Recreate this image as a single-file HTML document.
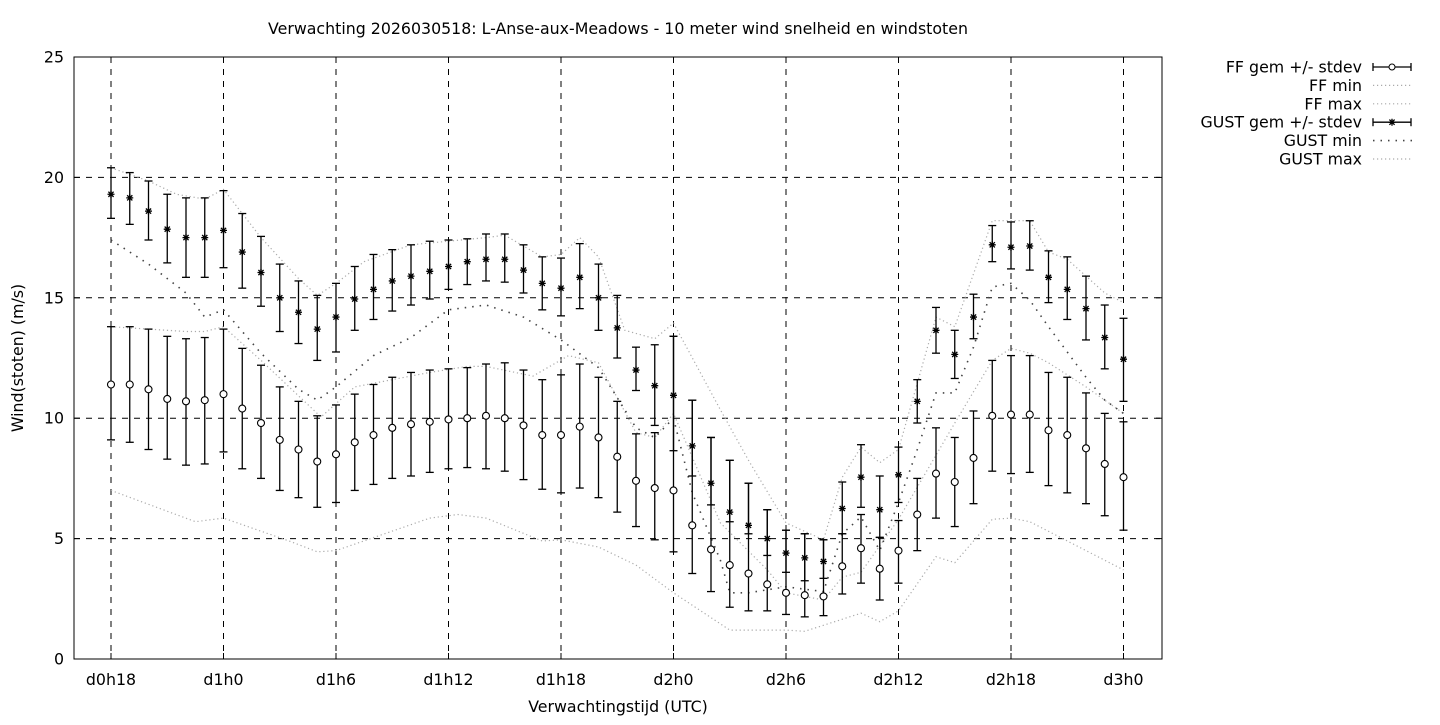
<!DOCTYPE html>
<html><head><meta charset="utf-8"><style>
html,body{margin:0;padding:0;background:#fff}
svg text{font-family:"DejaVu Sans","Liberation Sans",sans-serif;font-size:15.8px;fill:#000}
</style></head><body>
<svg id="c" width="1440" height="720" xmlns="http://www.w3.org/2000/svg"></svg>
<script>
const X0=74,X1=1162,Y0=57,Y1=659;
const px=i=>111+18.75*i, py=v=>659-v*24.08;
let s='';
for(let v=5;v<25;v+=5) s+=`<line x1="${X0}" x2="${X1}" y1="${py(v)}" y2="${py(v)}" stroke="#000" stroke-dasharray="6,6"/>`;
const xt=["d0h18","d1h0","d1h6","d1h12","d1h18","d2h0","d2h6","d2h12","d2h18","d3h0"];
xt.forEach((t,k)=>{const x=px(k*6);s+=`<line x1="${x}" x2="${x}" y1="${Y0}" y2="${Y1}" stroke="#000" stroke-dasharray="6,6"/>`;
s+=`<line x1="${x}" x2="${x}" y1="${Y1}" y2="${Y1-6}" stroke="#000"/><line x1="${x}" x2="${x}" y1="${Y0}" y2="${Y0+6}" stroke="#000"/>`;
s+=`<text x="${x}" y="685" text-anchor="middle">${t}</text>`;});
for(let v=0;v<=25;v+=5){const y=py(v);s+=`<line x1="${X0}" x2="${X0+6}" y1="${y}" y2="${y}" stroke="#000"/><line x1="${X1}" x2="${X1-6}" y1="${y}" y2="${y}" stroke="#000"/>`;
s+=`<text x="64" y="${y+5.5}" text-anchor="end">${v}</text>`;}
s+=`<rect x="${X0}" y="${Y0}" width="${X1-X0}" height="${Y1-Y0}" fill="none" stroke="#000"/>`;
const ffmin=[[0,7],[4.5,5.7],[6,5.85],[9.5,4.9],[11,4.45],[12,4.5],[17,5.85],[18.5,6],[20,5.85],[23,4.9],[24,4.95],[26,4.65],[28,3.9],[30,2.75],[33,1.2],[36,1.2],[37,1.15],[40,1.9],[41,1.55],[42,2.0],[44,4.25],[45,4.0],[47,5.8],[48,5.85],[49,5.7],[54,3.7]];
const ffmax=[[0,13.8],[4,13.6],[5,13.6],[6,13.8],[8,12.4],[11.2,10.05],[13,11.3],[17,11.9],[19,12.15],[20,12.15],[22.5,11.75],[24.4,12.6],[26,12.3],[28,9.4],[29,9.2],[30,10.2],[32.5,5.65],[35,3.7],[36,2.75],[38,2.45],[39,3.4],[40,3.6],[42,5.8],[45,9.8],[47,12.4],[48,12.9],[49,12.7],[50,12.3],[52,11.3],[54,10.2]];
const gmin=[[0,17.4],[2,16.4],[4,15.2],[5,14.2],[6,14.5],[8,12.7],[10,11.2],[11,10.75],[12,11.3],[14,12.6],[16,13.35],[18,14.5],[20,14.7],[22,14.2],[24,13.25],[26,12.1],[28,9.6],[29,9.2],[30,10.0],[31,6.9],[32.5,4.1],[33,2.75],[34,2.75],[36,3.0],[38,2.8],[39,5.2],[40,5.9],[41,4.5],[42,6.5],[43,8.7],[44,11.05],[45,11.05],[46,12.95],[47,15.45],[48,15.6],[49,14.9],[50,13.8],[52,11.7],[53,10.75],[54,10.2]];
const gmax=[[0,20.4],[2,19.85],[3.5,19.3],[5,19.1],[6,19.5],[8,17.5],[10,15.8],[11,15.1],[12,15.6],[13.5,16.5],[16,17.2],[18,17.35],[20,17.5],[21,17.6],[23,16.7],[24,16.8],[25,17.5],[26,16.7],[27.4,13.65],[29,13.3],[30,13.95],[32.5,10.35],[34,8.25],[36,5.65],[38,4.95],[39,7.55],[40,8.8],[41,8.15],[42,8.7],[44,14.2],[45,13.8],[47,18.2],[49,18.2],[50,16.9],[51,16.6],[53,15.2],[54,14.8]];
const line=(a,st)=>`<polyline fill="none" ${st} points="${a.map(p=>px(p[0]).toFixed(1)+','+py(p[1]).toFixed(1)).join(' ')}"/>`;
const light='stroke="#aaa" stroke-width="1.2" stroke-dasharray="1.2,2.8"';
const dark='stroke="#444" stroke-width="1.6" stroke-dasharray="1.5,6"';
s+=line(ffmin,light)+line(ffmax,light)+line(gmax,light)+line(gmin,dark);
const ffm=[11.4,11.4,11.2,10.8,10.7,10.75,11.0,10.4,9.8,9.1,8.7,8.2,8.5,9.0,9.3,9.6,9.75,9.85,9.95,10.0,10.1,10.0,9.7,9.3,9.3,9.65,9.2,8.4,7.4,7.1,7.0,5.55,4.55,3.9,3.55,3.1,2.75,2.65,2.6,3.85,4.6,3.75,4.5,6.0,7.7,7.35,8.35,10.1,10.15,10.15,9.5,9.3,8.75,8.1,7.55];
const ffh=[13.8,13.8,13.7,13.4,13.3,13.35,13.7,12.9,12.2,11.3,10.7,10.1,10.55,11.0,11.4,11.7,11.9,12.0,12.05,12.1,12.25,12.3,12.0,11.6,11.8,12.25,11.7,10.7,9.35,9.4,13.4,10.75,9.2,8.25,7.3,6.2,5.35,5.2,4.95,5.2,6.0,5.05,5.75,7.5,9.6,9.2,10.3,12.4,12.6,12.6,11.9,11.7,11.05,10.2,9.85];
const ffl=[9.1,9.0,8.7,8.3,8.05,8.1,8.6,7.9,7.5,7.0,6.7,6.3,6.5,7.0,7.25,7.5,7.6,7.75,7.9,7.95,7.9,7.8,7.45,7.05,6.9,7.1,6.7,6.1,5.5,4.95,4.45,3.55,2.8,2.15,2.0,2.0,1.85,1.75,1.8,2.7,3.15,2.45,3.15,4.5,5.85,5.5,6.45,7.8,7.7,7.75,7.2,6.9,6.45,5.95,5.35];
const gm=[19.3,19.15,18.6,17.85,17.5,17.5,17.8,16.9,16.05,15.0,14.4,13.7,14.2,14.95,15.35,15.7,15.9,16.1,16.3,16.5,16.6,16.6,16.15,15.6,15.4,15.85,15.0,13.75,12.0,11.35,10.95,8.85,7.3,6.1,5.55,5.0,4.4,4.2,4.05,6.25,7.55,6.2,7.65,10.7,13.65,12.65,14.2,17.2,17.1,17.15,15.85,15.35,14.55,13.35,12.45];
const gh=[20.4,20.2,19.85,19.3,19.15,19.15,19.45,18.5,17.55,16.4,15.7,15.1,15.6,16.3,16.8,17.0,17.2,17.35,17.4,17.45,17.65,17.65,17.2,16.7,16.65,17.25,16.4,15.1,12.95,13.05,13.4,10.75,9.2,8.25,7.3,6.2,5.35,5.2,4.95,7.35,8.9,7.6,8.8,11.6,14.6,13.65,15.15,18.0,18.15,18.2,16.95,16.7,15.9,14.7,14.15];
const gl=[18.3,18.05,17.4,16.45,15.85,15.85,16.25,15.4,14.65,13.6,13.1,12.4,12.75,13.65,14.1,14.45,14.7,14.95,15.35,15.55,15.7,15.65,15.2,14.5,14.25,14.55,13.65,12.5,11.15,9.7,8.65,7.6,6.4,5.7,5.2,4.3,3.6,3.25,3.35,5.2,6.3,5.05,6.5,9.8,12.7,11.65,13.3,16.5,16.2,16.15,14.8,14.1,13.25,12.05,10.7];
function bar(i,lo,hi){const x=px(i);return `<line x1="${x}" x2="${x}" y1="${py(lo)}" y2="${py(hi)}" stroke="#000" stroke-width="1.3"/><line x1="${x-4}" x2="${x+4}" y1="${py(lo)}" y2="${py(lo)}" stroke="#000" stroke-width="1.3"/><line x1="${x-4}" x2="${x+4}" y1="${py(hi)}" y2="${py(hi)}" stroke="#000" stroke-width="1.3"/>`;}
function star(x,y){return `<path d="M${x-3.5} ${y}H${x+3.5}M${x} ${y-3.5}V${y+3.5}M${x-2.6} ${y-2.6}L${x+2.6} ${y+2.6}M${x-2.6} ${y+2.6}L${x+2.6} ${y-2.6}" stroke="#000" stroke-width="1.3"/>`;}
for(let i=0;i<55;i++){s+=bar(i,ffl[i],ffh[i])+bar(i,gl[i],gh[i]);
s+=`<circle cx="${px(i)}" cy="${py(ffm[i])}" r="3.5" fill="#fff" stroke="#000" stroke-width="1.1"/>`;
s+=star(px(i),py(gm[i]));}
const L=["FF gem +/- stdev","FF min","FF max","GUST gem +/- stdev","GUST min","GUST max"];
L.forEach((t,k)=>{const y=67+18.4*k;s+=`<text x="1362" y="${y+5.5}" text-anchor="end">${t}</text>`;
if(k==0||k==3){s+=`<line x1="1373" x2="1411" y1="${y}" y2="${y}" stroke="#000" stroke-width="1.3"/><line x1="1373" x2="1373" y1="${y-4}" y2="${y+4}" stroke="#000" stroke-width="1.3"/><line x1="1411" x2="1411" y1="${y-4}" y2="${y+4}" stroke="#000" stroke-width="1.3"/>`;
s+=k==0?`<circle cx="1392" cy="${y}" r="3" fill="#fff" stroke="#000"/>`:star(1392,y);}
else s+=`<line x1="1373" x2="1413" y1="${y}" y2="${y}" ${k==4?dark:light}/>`;});
s+=`<text x="618" y="34" text-anchor="middle">Verwachting 2026030518: L-Anse-aux-Meadows - 10 meter wind snelheid en windstoten</text>`;
s+=`<text x="618" y="712" text-anchor="middle">Verwachtingstijd (UTC)</text>`;
s+=`<text transform="translate(23,358) rotate(-90)" text-anchor="middle">Wind(stoten) (m/s)</text>`;
document.getElementById('c').innerHTML=s;
</script>
</body></html>
